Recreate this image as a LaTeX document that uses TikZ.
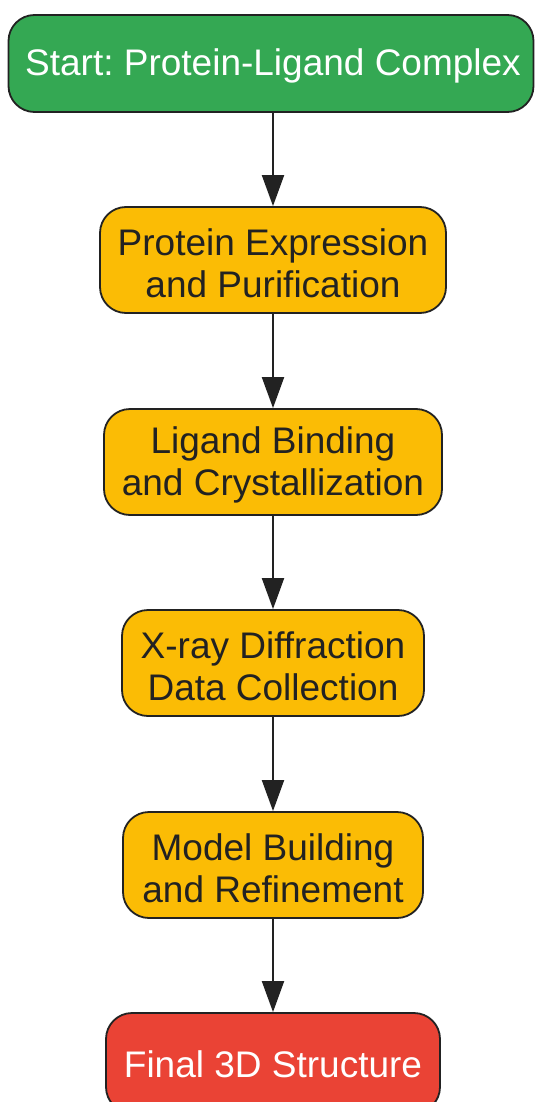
\documentclass[tikz,border=0pt]{standalone}
\usepackage{fontspec}
\setmainfont{Liberation Sans}
\usetikzlibrary{arrows.meta}
\definecolor{gfill}{HTML}{34A853}
\definecolor{yfill}{HTML}{FBBC05}
\definecolor{rfill}{HTML}{EA4335}
\definecolor{dk}{HTML}{222222}
\frenchspacing
\tikzset{
  x=1pt,y=-1pt,
  box/.style={draw=dk, line width=1.8pt, rounded corners=26pt, inner sep=0pt},
  startbox/.style={box, fill=gfill},
  procbox/.style={box, fill=yfill},
  endbox/.style={box, fill=rfill},
  lbl/.style={font=\fontsize{37}{42}\selectfont, align=center, inner sep=0pt},
  flow/.style={draw=dk, line width=2pt, -{Triangle[length=31pt,width=22pt]}}
}
\begin{document}
\begin{tikzpicture}
\useasboundingbox (0,0) rectangle (536,1102);
\begin{scope}
\clip (0,0) rectangle (536,1102);
\node[startbox, minimum width=525pt, minimum height=97pt] (n1) at (271,63.5) {};
\node[procbox, minimum width=346pt, minimum height=106pt] (n2) at (273,260) {};
\node[procbox, minimum width=338pt, minimum height=106pt] (n3) at (273,462) {};
\node[procbox, minimum width=302pt, minimum height=106pt] (n4) at (273,663) {};
\node[procbox, minimum width=300pt, minimum height=106pt] (n5) at (273,865) {};
\node[endbox, minimum width=334pt, minimum height=100pt] (n6) at (273,1063) {};
\node[lbl, text=white] (t1) at (273,66) {Start: Protein-Ligand Complex};
\node[lbl, text=dk] (t2) at (273,263) {Protein Expression\\and Purification};
\node[lbl, text=dk] (t3) at (273,465) {Ligand Binding\\and Crystallization};
\node[lbl, text=dk] (t4) at (273,666) {X-ray Diffraction\\Data Collection};
\node[lbl, text=dk] (t5) at (273,868) {Model Building\\and Refinement};
\node[lbl, text=white] (t6) at (273,1064) {Final 3D Structure};
\end{scope}
\coordinate (a1) at (273,112);
\draw[flow] (a1) -- (n2.north);
\draw[flow] (n2.south) -- (n3.north);
\draw[flow] (n3.south) -- (n4.north);
\draw[flow] (n4.south) -- (n5.north);
\draw[flow] (n5.south) -- (n6.north);
\end{tikzpicture}
\end{document}
